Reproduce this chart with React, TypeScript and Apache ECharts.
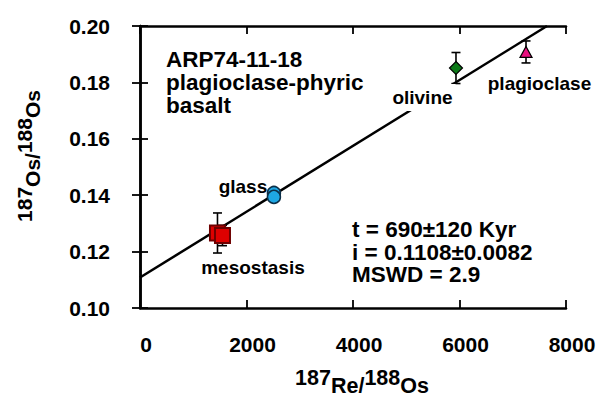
import React, { useEffect, useRef } from "react";
import * as echarts from "echarts";

const FONT = "'Liberation Sans', Arial, Helvetica, sans-serif";

const xTicks = [0, 2000, 4000, 6000, 8000];
const yTicks = [0.1, 0.12, 0.14, 0.16, 0.18, 0.2];

const mesoX = [1455, 1549];
const mesoY = [0.1266, 0.1257];
const mesoErr = [0.0071, 0.0036];

const glassX = [2515, 2515];
const glassY = [0.1408, 0.1394];
const glassErr = [0, 0];

const olivineX = [5934];
const olivineY = [0.1851];
const olivineErr = [0.0055];

const plagX = [7249];
const plagY = [0.1908];
const plagErr = [0.0039];

const fitX = [0, 7643];
const fitY = [0.1108, 0.2];

const titleLines = ["ARP74-11-18", "plagioclase-phyric", "basalt"];
const statLines = ["t = 690±120 Kyr", "i = 0.1108±0.0082", "MSWD = 2.9"];

function zip(xs: number[], ys: number[]) {
  return xs.map((x, i) => [x, ys[i]]);
}
function zip3(xs: number[], ys: number[], es: number[]) {
  return xs.map((x, i) => [x, ys[i], es[i]]);
}

const labelBase = {
  show: true,
  position: "inside",
  color: "#000",
  fontFamily: FONT,
  fontWeight: "bold",
  fontSize: 19,
};

function lineTexts(lines: string[], x: number, y0: number, step: number, size: number) {
  return lines.map((t, i) => ({
    type: "text",
    x,
    y: y0 + i * step,
    style: {
      text: t,
      fontFamily: FONT,
      fontWeight: "bold",
      fontSize: size,
      fill: "#000",
      align: "left",
      verticalAlign: "middle",
    },
  }));
}

export default function App() {
  const ref = useRef<HTMLDivElement>(null);
  useEffect(() => {
    document.body.style.margin = "0";
    const chart = echarts.init(ref.current!, null, { renderer: "svg" });
    const axisLine = { show: true, lineStyle: { color: "#000", width: 2.5 } };
    const axisTick = { show: true, inside: true, length: 8, lineStyle: { color: "#000", width: 1.8 } };
    const errBars = zip3(mesoX, mesoY, mesoErr)
      .concat(zip3(olivineX, olivineY, olivineErr))
      .concat(zip3(plagX, plagY, plagErr))
      .concat(zip3(glassX, glassY, glassErr).filter((d) => d[2] > 0));
    const option: any = {
      animation: false,
      grid: { left: 140, right: 38, top: 26, bottom: 91 },
      xAxis: [
        {
          type: "value",
          min: xTicks[0],
          max: xTicks[xTicks.length - 1],
          interval: 2000,
          position: "bottom",
          axisLine,
          axisTick,
          splitLine: { show: false },
          axisLabel: {
            color: "#000",
            fontFamily: FONT,
            fontWeight: "bold",
            fontSize: 21,
            margin: 26,
            padding: [0, 0, 0, 12],
            formatter: (v: number) => String(v),
          },
        },
        {
          type: "value",
          min: xTicks[0],
          max: xTicks[xTicks.length - 1],
          interval: 2000,
          position: "top",
          axisLine,
          axisTick,
          splitLine: { show: false },
          axisLabel: { show: false },
        },
      ],
      yAxis: [
        {
          type: "value",
          min: yTicks[0],
          max: yTicks[yTicks.length - 1],
          interval: 0.02,
          position: "left",
          axisLine,
          axisTick,
          splitLine: { show: false },
          axisLabel: {
            color: "#000",
            fontFamily: FONT,
            fontWeight: "bold",
            fontSize: 21,
            margin: 30,
            formatter: (v: number) => v.toFixed(2),
          },
        },
        {
          type: "value",
          min: yTicks[0],
          max: yTicks[yTicks.length - 1],
          interval: 0.02,
          position: "right",
          axisLine,
          axisTick,
          splitLine: { show: false },
          axisLabel: { show: false },
        },
      ],
      graphic: [
        ...lineTexts(titleLines, 166, 59.5, 23, 22.5),
        ...lineTexts(statLines, 352, 229.5, 22.7, 22.5),
        {
          type: "text",
          x: 362,
          y: 382,
          style: {
            text: "{sup|187}{sub|Re/}{sup|188}{sub|Os}",
            fill: "#000",
            align: "center",
            verticalAlign: "middle",
            rich: {
              sup: { fontFamily: FONT, fontWeight: "bold", fontSize: 21.5, lineHeight: 18, padding: [0, 0, 8, 0], fill: "#000" },
              sub: { fontFamily: FONT, fontWeight: "bold", fontSize: 21.5, lineHeight: 18, padding: [8, 0, 0, 0], fill: "#000" },
            },
          },
        },
        {
          type: "text",
          x: 28,
          y: 156,
          rotation: Math.PI / 2,
          style: {
            text: "{sup|187}{sub|Os/}{sup|188}{sub|Os}",
            fill: "#000",
            align: "center",
            verticalAlign: "middle",
            rich: {
              sup: { fontFamily: FONT, fontWeight: "bold", fontSize: 21, lineHeight: 18, padding: [0, 0, 8, 0], fill: "#000" },
              sub: { fontFamily: FONT, fontWeight: "bold", fontSize: 21, lineHeight: 18, padding: [8, 0, 0, 0], fill: "#000" },
            },
          },
        },
      ],
      series: [
        {
          name: "fit",
          type: "line",
          z: 1,
          data: zip(fitX, fitY),
          symbol: "none",
          lineStyle: { color: "#000", width: 2.5 },
          silent: true,
        },
        {
          name: "errors",
          type: "custom",
          z: 2,
          data: errBars,
          encode: { x: 0, y: 1 },
          renderItem: (params: any, api: any) => {
            const x = api.value(0);
            const y = api.value(1);
            const e = api.value(2);
            const hi = api.coord([x, y + e]);
            const lo = api.coord([x, y - e]);
            const hw = 4.5;
            const st = { stroke: "#000", lineWidth: 1.6 };
            return {
              type: "group",
              children: [
                { type: "line", shape: { x1: hi[0], y1: hi[1], x2: lo[0], y2: lo[1] }, style: st },
                { type: "line", shape: { x1: hi[0] - hw, y1: hi[1], x2: hi[0] + hw, y2: hi[1] }, style: st },
                { type: "line", shape: { x1: lo[0] - hw, y1: lo[1], x2: lo[0] + hw, y2: lo[1] }, style: st },
              ],
            };
          },
        },
        {
          name: "mesostasis",
          type: "scatter",
          z: 3,
          symbol: "rect",
          symbolSize: 15,
          itemStyle: { color: "#dd0000", borderColor: "#6e0000", borderWidth: 2, opacity: 1 },
          data: zip(mesoX, mesoY).map((v, i) =>
            i === 0
              ? { value: v, label: { ...labelBase, formatter: "mesostasis", offset: [35.5, 35] } }
              : { value: v }
          ),
        },
        {
          name: "glass",
          type: "scatter",
          z: 3,
          symbol: "circle",
          symbolSize: 13,
          itemStyle: { color: "#1ea7e4", borderColor: "#0c2f48", borderWidth: 1.5, opacity: 1 },
          data: zip(glassX, glassY).map((v, i) =>
            i === 0
              ? { value: v, label: { ...labelBase, formatter: "glass", offset: [-31, -6] } }
              : { value: v }
          ),
        },
        {
          name: "olivine",
          type: "scatter",
          z: 3,
          symbol: "diamond",
          symbolSize: [13, 13],
          itemStyle: { color: "#0c7a18", borderColor: "#000", borderWidth: 1.2, opacity: 1 },
          data: zip(olivineX, olivineY).map((v) => ({
            value: v,
            label: {
              ...labelBase,
              formatter: "olivine",
              offset: [-33.5, 29.5],
              backgroundColor: "#fff",
              padding: [4, 3, 4, 3],
            },
          })),
        },
        {
          name: "plagioclase",
          type: "scatter",
          z: 3,
          symbol: "triangle",
          symbolSize: [12, 11],
          itemStyle: { color: "#e8107f", borderColor: "#000", borderWidth: 1.2, opacity: 1 },
          data: zip(plagX, plagY).map((v) => ({
            value: v,
            label: {
              ...labelBase,
              formatter: "plagioclase",
              offset: [13.5, 31.5],
              backgroundColor: "#fff",
              padding: [3, 2, 3, 2],
            },
          })),
        },
      ],
    };
    chart.setOption(option);
    return () => chart.dispose();
  }, []);
  return <div ref={ref} style={{ width: 604, height: 399 }} />;
}
